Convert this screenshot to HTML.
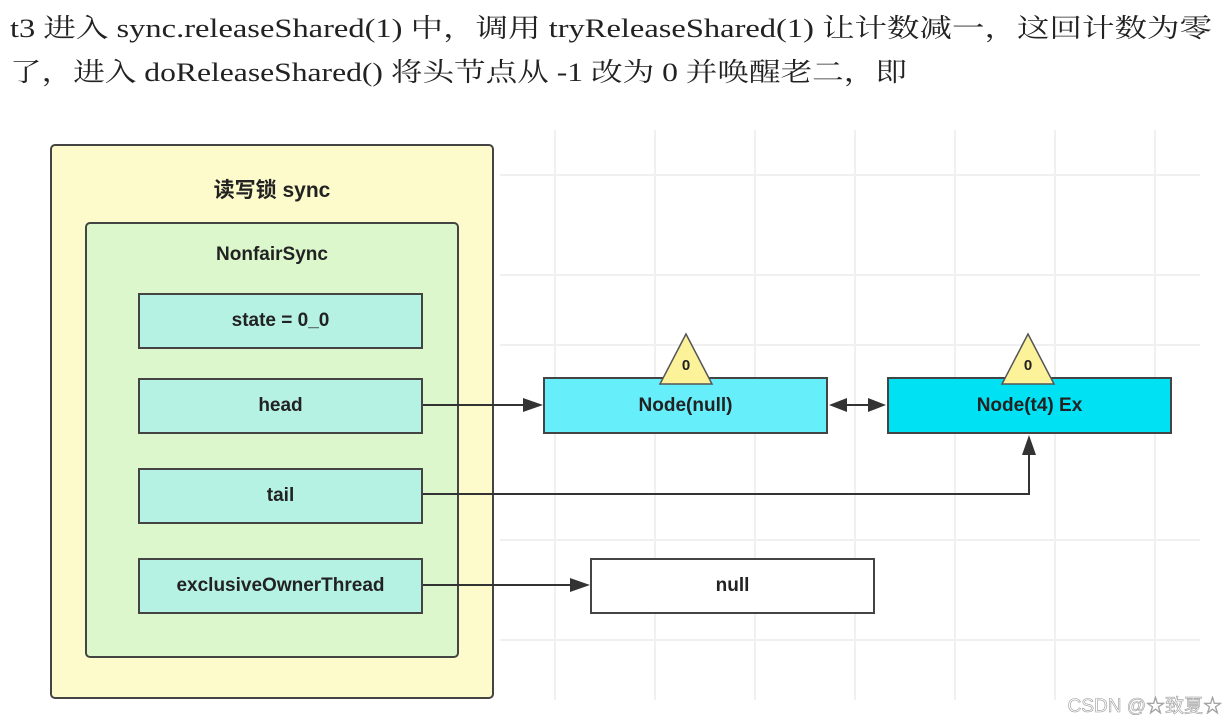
<!DOCTYPE html>
<html><head><meta charset="utf-8"><style>
body{margin:0;width:1230px;height:722px;background:#fff;overflow:hidden;position:relative;font-family:"Liberation Sans","Noto Sans CJK SC",sans-serif}
.b{position:absolute;box-sizing:border-box;border:2px solid #444;display:flex;align-items:center;justify-content:center;font-weight:bold;font-size:19px;color:#222}
</style></head><body>
<svg style="position:absolute;left:0;top:0" width="1230" height="722">
<g font-family="Liberation Serif,Noto Serif CJK SC,serif" font-size="26" fill="#222">
<text x="10" y="37" textLength="1202" lengthAdjust="spacingAndGlyphs">t3 进入 sync.releaseShared(1) 中，调用 tryReleaseShared(1) 让计数减一，这回计数为零</text>
<text x="10" y="81" textLength="897" lengthAdjust="spacingAndGlyphs">了，进入 doReleaseShared() 将头节点从 -1 改为 0 并唤醒老二，即</text>
</g>
<g stroke="#f0f0f0" stroke-width="2">
<line x1="555" y1="130" x2="555" y2="700"/><line x1="655" y1="130" x2="655" y2="700"/><line x1="755" y1="130" x2="755" y2="700"/><line x1="855" y1="130" x2="855" y2="700"/><line x1="955" y1="130" x2="955" y2="700"/><line x1="1055" y1="130" x2="1055" y2="700"/><line x1="1155" y1="130" x2="1155" y2="700"/>
<line x1="500" y1="175" x2="1200" y2="175"/><line x1="500" y1="275" x2="1200" y2="275"/><line x1="500" y1="345" x2="1200" y2="345"/><line x1="500" y1="540" x2="1200" y2="540"/><line x1="500" y1="640" x2="1200" y2="640"/>
</g></svg>
<div class="b" style="left:50px;top:144px;width:444px;height:555px;background:#fdfbcb;border-radius:5px;align-items:flex-start;padding-top:28px;font-size:21px">读写锁 sync</div>
<div class="b" style="left:85px;top:222px;width:374px;height:436px;background:#dbf7cb;border-radius:5px;align-items:flex-start;padding-top:20px">NonfairSync</div>
<div class="b" style="left:138px;top:293px;width:285px;height:56px;background:#b6f2e4">state = 0_0</div>
<div class="b" style="left:138px;top:378px;width:285px;height:56px;background:#b6f2e4">head</div>
<div class="b" style="left:138px;top:468px;width:285px;height:56px;background:#b6f2e4">tail</div>
<div class="b" style="left:138px;top:558px;width:285px;height:56px;background:#b6f2e4">exclusiveOwnerThread</div>
<div class="b" style="left:543px;top:377px;width:285px;height:57px;background:#66eefb">Node(null)</div>
<div class="b" style="left:887px;top:377px;width:285px;height:57px;background:#00e1f3">Node(t4) Ex</div>
<div class="b" style="left:590px;top:558px;width:285px;height:56px;background:#fff">null</div>
<svg style="position:absolute;left:0;top:0" width="1230" height="722">
<g stroke="#333" stroke-width="2" fill="none">
<line x1="423" y1="405" x2="528" y2="405"/>
<line x1="842" y1="405" x2="872" y2="405"/>
<polyline points="423,494 1029,494 1029,450"/>
<line x1="423" y1="585" x2="575" y2="585"/>
</g>
<g fill="#333">
<polygon points="543,405 523,398 523,412"/>
<polygon points="829,405 847,398 847,412"/>
<polygon points="886,405 868,398 868,412"/>
<polygon points="1029,435 1022,455 1036,455"/>
<polygon points="590,585 570,578 570,592"/>
</g>
<g fill="#fbf29a" stroke="#555" stroke-width="1.5">
<polygon points="686,334 660,384 712,384"/>
<polygon points="1028,334 1002,384 1054,384"/>
</g>
<g font-family="Liberation Sans" font-weight="bold" font-size="15" fill="#222" text-anchor="middle">
<text x="686" y="370">0</text><text x="1028" y="370">0</text>
</g>
<text x="1222" y="712" text-anchor="end" font-family="Liberation Sans,Noto Sans CJK SC,sans-serif" font-size="19" fill="#fff" stroke="#999" stroke-width="0.6">CSDN @☆致夏☆</text>
</svg>
</body></html>
